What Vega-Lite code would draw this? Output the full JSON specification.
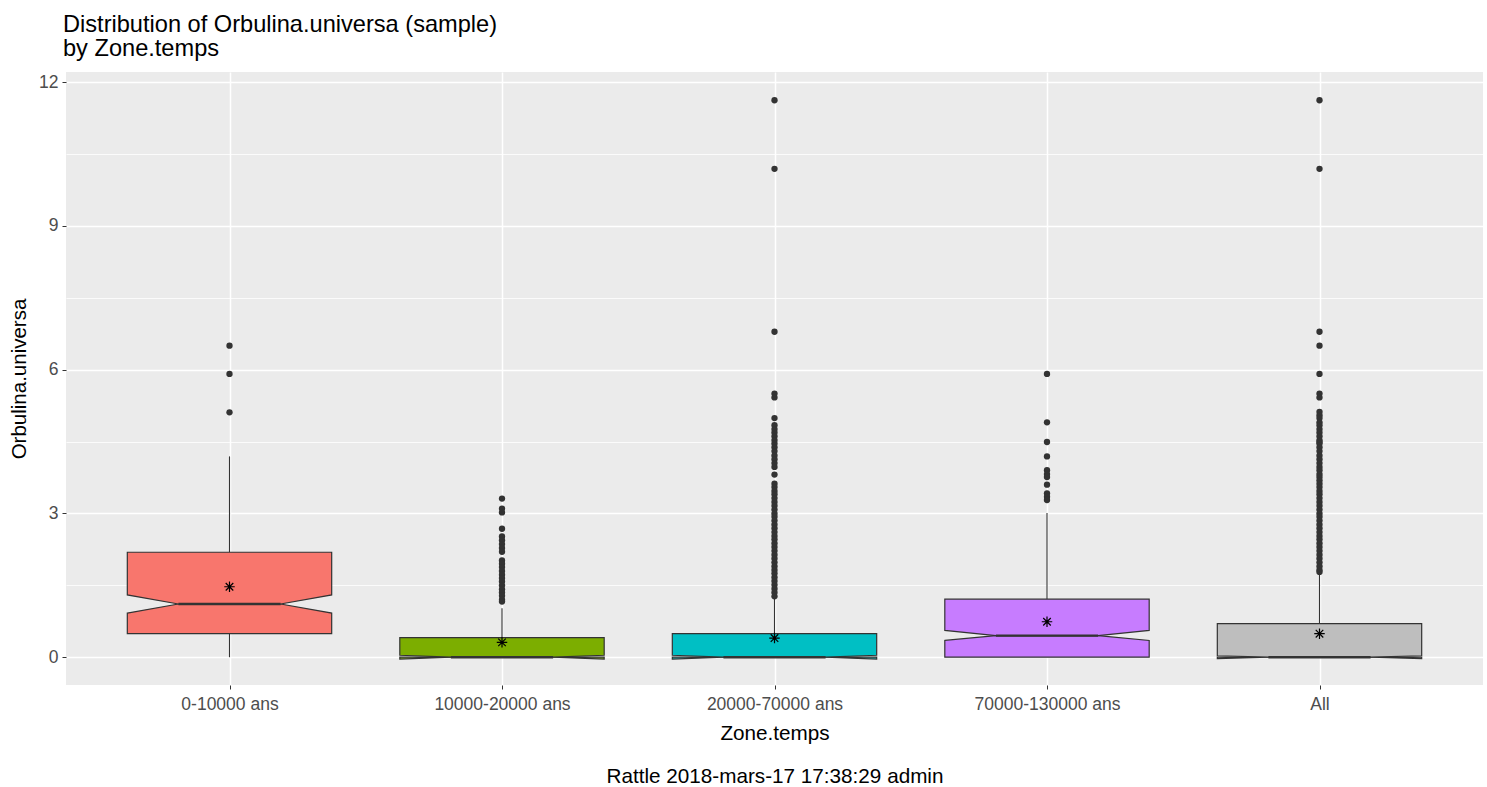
{
  "$schema": "https://vega.github.io/schema/vega-lite/v6.json",
  "width": 1417,
  "height": 613,
  "autosize": {"type": "none"},
  "padding": {"left": 66, "top": 72, "right": 4, "bottom": 102},
  "background": "white",
  "title": {
    "text": ["Distribution of Orbulina.universa (sample)", "by Zone.temps"],
    "anchor": "start",
    "frame": "group",
    "fontSize": 23.6,
    "fontWeight": "normal",
    "font": "Liberation Sans",
    "color": "black",
    "lineHeight": 24,
    "offset": 11,
    "dx": -3
  },
  "config": {
    "font": "Liberation Sans",
    "view": {"fill": "#EBEBEB", "stroke": null}
  },
  "datasets": {
    "stats": [
      {"group": "0-10000 ans", "q1": 0.49, "nlo": 0.92, "med": 1.11, "nhi": 1.30, "q3": 2.19, "wlo": 0.0, "whi": 4.19, "mean": 1.47},
      {"group": "10000-20000 ans", "q1": 0.0, "nlo": -0.04, "med": 0.0, "nhi": 0.04, "q3": 0.41, "wlo": 0.0, "whi": 1.02, "mean": 0.31},
      {"group": "20000-70000 ans", "q1": 0.0, "nlo": -0.04, "med": 0.0, "nhi": 0.04, "q3": 0.49, "wlo": 0.0, "whi": 1.22, "mean": 0.40},
      {"group": "70000-130000 ans", "q1": 0.0, "nlo": 0.35, "med": 0.45, "nhi": 0.56, "q3": 1.21, "wlo": 0.0, "whi": 3.01, "mean": 0.74},
      {"group": "All", "q1": 0.0, "nlo": -0.03, "med": 0.0, "nhi": 0.03, "q3": 0.70, "wlo": 0.0, "whi": 1.75, "mean": 0.49}
    ],
    "outliers": [
      {"group": "0-10000 ans", "value": 6.50},
      {"group": "0-10000 ans", "value": 5.91},
      {"group": "0-10000 ans", "value": 5.11},
      {"group": "10000-20000 ans", "value": 3.31},
      {"group": "10000-20000 ans", "value": 3.10},
      {"group": "10000-20000 ans", "value": 3.02},
      {"group": "10000-20000 ans", "value": 2.68},
      {"group": "10000-20000 ans", "value": 2.52},
      {"group": "10000-20000 ans", "value": 2.44},
      {"group": "10000-20000 ans", "value": 2.36},
      {"group": "10000-20000 ans", "value": 2.28},
      {"group": "10000-20000 ans", "value": 2.20},
      {"group": "10000-20000 ans", "value": 2.02},
      {"group": "10000-20000 ans", "value": 1.95},
      {"group": "10000-20000 ans", "value": 1.88},
      {"group": "10000-20000 ans", "value": 1.80},
      {"group": "10000-20000 ans", "value": 1.72},
      {"group": "10000-20000 ans", "value": 1.65},
      {"group": "10000-20000 ans", "value": 1.58},
      {"group": "10000-20000 ans", "value": 1.50},
      {"group": "10000-20000 ans", "value": 1.42},
      {"group": "10000-20000 ans", "value": 1.35},
      {"group": "10000-20000 ans", "value": 1.28},
      {"group": "10000-20000 ans", "value": 1.20},
      {"group": "10000-20000 ans", "value": 1.16},
      {"group": "20000-70000 ans", "value": 11.62},
      {"group": "20000-70000 ans", "value": 10.19},
      {"group": "20000-70000 ans", "value": 6.79},
      {"group": "20000-70000 ans", "value": 5.50},
      {"group": "20000-70000 ans", "value": 5.42},
      {"group": "20000-70000 ans", "value": 4.99},
      {"group": "20000-70000 ans", "value": 4.84},
      {"group": "20000-70000 ans", "value": 4.76},
      {"group": "20000-70000 ans", "value": 4.69},
      {"group": "20000-70000 ans", "value": 4.61},
      {"group": "20000-70000 ans", "value": 4.53},
      {"group": "20000-70000 ans", "value": 4.46},
      {"group": "20000-70000 ans", "value": 4.38},
      {"group": "20000-70000 ans", "value": 4.30},
      {"group": "20000-70000 ans", "value": 4.21},
      {"group": "20000-70000 ans", "value": 4.13},
      {"group": "20000-70000 ans", "value": 4.05},
      {"group": "20000-70000 ans", "value": 3.97},
      {"group": "20000-70000 ans", "value": 3.81},
      {"group": "20000-70000 ans", "value": 3.62},
      {"group": "20000-70000 ans", "value": 3.55},
      {"group": "20000-70000 ans", "value": 3.47},
      {"group": "20000-70000 ans", "value": 3.40},
      {"group": "20000-70000 ans", "value": 3.32},
      {"group": "20000-70000 ans", "value": 3.24},
      {"group": "20000-70000 ans", "value": 3.16},
      {"group": "20000-70000 ans", "value": 3.08},
      {"group": "20000-70000 ans", "value": 3.00},
      {"group": "20000-70000 ans", "value": 2.93},
      {"group": "20000-70000 ans", "value": 2.85},
      {"group": "20000-70000 ans", "value": 2.77},
      {"group": "20000-70000 ans", "value": 2.69},
      {"group": "20000-70000 ans", "value": 2.61},
      {"group": "20000-70000 ans", "value": 2.53},
      {"group": "20000-70000 ans", "value": 2.46},
      {"group": "20000-70000 ans", "value": 2.38},
      {"group": "20000-70000 ans", "value": 2.30},
      {"group": "20000-70000 ans", "value": 2.22},
      {"group": "20000-70000 ans", "value": 2.14},
      {"group": "20000-70000 ans", "value": 2.06},
      {"group": "20000-70000 ans", "value": 1.98},
      {"group": "20000-70000 ans", "value": 1.90},
      {"group": "20000-70000 ans", "value": 1.82},
      {"group": "20000-70000 ans", "value": 1.75},
      {"group": "20000-70000 ans", "value": 1.67},
      {"group": "20000-70000 ans", "value": 1.59},
      {"group": "20000-70000 ans", "value": 1.51},
      {"group": "20000-70000 ans", "value": 1.43},
      {"group": "20000-70000 ans", "value": 1.35},
      {"group": "20000-70000 ans", "value": 1.27},
      {"group": "70000-130000 ans", "value": 5.91},
      {"group": "70000-130000 ans", "value": 4.90},
      {"group": "70000-130000 ans", "value": 4.49},
      {"group": "70000-130000 ans", "value": 4.19},
      {"group": "70000-130000 ans", "value": 3.90},
      {"group": "70000-130000 ans", "value": 3.82},
      {"group": "70000-130000 ans", "value": 3.76},
      {"group": "70000-130000 ans", "value": 3.60},
      {"group": "70000-130000 ans", "value": 3.42},
      {"group": "70000-130000 ans", "value": 3.35},
      {"group": "70000-130000 ans", "value": 3.28},
      {"group": "All", "value": 11.62},
      {"group": "All", "value": 10.19},
      {"group": "All", "value": 6.79},
      {"group": "All", "value": 6.50},
      {"group": "All", "value": 5.91},
      {"group": "All", "value": 5.50},
      {"group": "All", "value": 5.42},
      {"group": "All", "value": 5.12},
      {"group": "All", "value": 5.05},
      {"group": "All", "value": 4.99},
      {"group": "All", "value": 4.90},
      {"group": "All", "value": 4.84},
      {"group": "All", "value": 4.76},
      {"group": "All", "value": 4.69},
      {"group": "All", "value": 4.61},
      {"group": "All", "value": 4.53},
      {"group": "All", "value": 4.49},
      {"group": "All", "value": 4.46},
      {"group": "All", "value": 4.38},
      {"group": "All", "value": 4.30},
      {"group": "All", "value": 4.21},
      {"group": "All", "value": 4.13},
      {"group": "All", "value": 4.05},
      {"group": "All", "value": 3.97},
      {"group": "All", "value": 3.90},
      {"group": "All", "value": 3.82},
      {"group": "All", "value": 3.76},
      {"group": "All", "value": 3.69},
      {"group": "All", "value": 3.62},
      {"group": "All", "value": 3.55},
      {"group": "All", "value": 3.47},
      {"group": "All", "value": 3.40},
      {"group": "All", "value": 3.32},
      {"group": "All", "value": 3.24},
      {"group": "All", "value": 3.16},
      {"group": "All", "value": 3.08},
      {"group": "All", "value": 3.00},
      {"group": "All", "value": 2.93},
      {"group": "All", "value": 2.85},
      {"group": "All", "value": 2.77},
      {"group": "All", "value": 2.69},
      {"group": "All", "value": 2.61},
      {"group": "All", "value": 2.53},
      {"group": "All", "value": 2.46},
      {"group": "All", "value": 2.38},
      {"group": "All", "value": 2.30},
      {"group": "All", "value": 2.22},
      {"group": "All", "value": 2.14},
      {"group": "All", "value": 2.06},
      {"group": "All", "value": 1.98},
      {"group": "All", "value": 1.90},
      {"group": "All", "value": 1.82},
      {"group": "All", "value": 1.78}
    ]
  },
  "layer": [
    {
      "data": {"name": "stats"},
      "transform": [
        {"calculate": "indexof(['0-10000 ans','10000-20000 ans','20000-70000 ans','70000-130000 ans','All'], datum.group) + 1", "as": "idx"}
      ],
      "mark": {"type": "rule", "color": "#333333", "strokeWidth": 1.1},
      "encoding": {
        "x": {
          "field": "idx", "type": "quantitative",
          "scale": {"domain": [0.4, 5.6], "nice": false, "zero": false},
          "axis": {
            "values": [1, 2, 3, 4, 5],
            "labelExpr": "['0-10000 ans','10000-20000 ans','20000-70000 ans','70000-130000 ans','All'][datum.value - 1]",
            "grid": true, "gridColor": "white", "gridWidth": 1.5,
            "domain": false,
            "ticks": true, "tickColor": "#333333", "tickSize": 4, "tickWidth": 1,
            "labelColor": "#4D4D4D", "labelFontSize": 17.5, "labelPadding": 6,
            "labelOverlap": false, "labelFlush": false,
            "title": ["Zone.temps", "Rattle 2018-mars-17 17:38:29 admin"],
            "titleFontSize": 20.7, "titleFontWeight": "normal", "titleColor": "black",
            "titlePadding": 11, "titleLineHeight": 43
          }
        },
        "y": {
          "field": "q3", "type": "quantitative",
          "scale": {"domain": [-0.58, 12.21], "nice": false, "zero": false},
          "axis": {
            "values": [0, 1.5, 3, 4.5, 6, 7.5, 9, 10.5, 12],
            "labelExpr": "datum.value % 3 === 0 ? datum.label : ''",
            "grid": true, "gridColor": "white",
            "gridWidth": {"condition": {"test": "datum.value % 3 === 0", "value": 1.5}, "value": 0.8},
            "domain": false,
            "tickColor": "#333333", "tickSize": 4, "tickWidth": 1,
            "tickOpacity": {"condition": {"test": "datum.value % 3 === 0", "value": 1}, "value": 0},
            "labelColor": "#4D4D4D", "labelFontSize": 17.5, "labelPadding": 4,
            "title": "Orbulina.universa",
            "titleFontSize": 20.5, "titleFontWeight": "normal", "titleColor": "black",
            "titlePadding": 9
          }
        },
        "y2": {"field": "whi"}
      }
    },
    {
      "data": {"name": "stats"},
      "transform": [
        {"calculate": "indexof(['0-10000 ans','10000-20000 ans','20000-70000 ans','70000-130000 ans','All'], datum.group) + 1", "as": "idx"}
      ],
      "mark": {"type": "rule", "color": "#333333", "strokeWidth": 1.1},
      "encoding": {
        "x": {"field": "idx", "type": "quantitative", "scale": {"domain": [0.4, 5.6], "nice": false, "zero": false}},
        "y": {"field": "wlo", "type": "quantitative", "scale": {"domain": [-0.58, 12.21], "nice": false, "zero": false}},
        "y2": {"field": "q1"}
      }
    },
    {
      "data": {"name": "outliers"},
      "transform": [
        {"calculate": "indexof(['0-10000 ans','10000-20000 ans','20000-70000 ans','70000-130000 ans','All'], datum.group) + 1", "as": "idx"}
      ],
      "mark": {"type": "point", "filled": true, "color": "#333333", "opacity": 1, "size": 40, "strokeWidth": 0},
      "encoding": {
        "x": {"field": "idx", "type": "quantitative", "scale": {"domain": [0.4, 5.6], "nice": false, "zero": false}},
        "y": {"field": "value", "type": "quantitative", "scale": {"domain": [-0.58, 12.21], "nice": false, "zero": false}}
      }
    },
    {
      "data": {"name": "stats"},
      "transform": [
        {"calculate": "indexof(['0-10000 ans','10000-20000 ans','20000-70000 ans','70000-130000 ans','All'], datum.group) + 1", "as": "idx"},
        {"fold": ["q1", "nlo", "nhi", "q3"], "as": ["corner", "cv"]},
        {"calculate": "datum.corner === 'q1' ? -0.375 : datum.corner === 'nlo' ? -0.1875 : datum.corner === 'nhi' ? 0.1875 : 0.375", "as": "dx"},
        {"calculate": "datum.idx + datum.dx", "as": "xv"},
        {"calculate": "abs(datum.dx) > 0.3 ? datum.nlo : datum.med", "as": "ytop"}
      ],
      "mark": {"type": "area", "stroke": "#333333", "strokeWidth": 1.2, "opacity": 1},
      "encoding": {
        "x": {"field": "xv", "type": "quantitative", "scale": {"domain": [0.4, 5.6], "nice": false, "zero": false}},
        "y": {"field": "ytop", "type": "quantitative", "stack": null, "scale": {"domain": [-0.58, 12.21], "nice": false, "zero": false}},
        "y2": {"field": "q1"},
        "fill": {
          "field": "group", "type": "nominal", "legend": null,
          "scale": {
            "domain": ["0-10000 ans", "10000-20000 ans", "20000-70000 ans", "70000-130000 ans", "All"],
            "range": ["#F8766D", "#7CAE00", "#00BFC4", "#C77CFF", "#BEBEBE"]
          }
        }
      }
    },
    {
      "data": {"name": "stats"},
      "transform": [
        {"calculate": "indexof(['0-10000 ans','10000-20000 ans','20000-70000 ans','70000-130000 ans','All'], datum.group) + 1", "as": "idx"},
        {"fold": ["q1", "nlo", "nhi", "q3"], "as": ["corner", "cv"]},
        {"calculate": "datum.corner === 'q1' ? -0.375 : datum.corner === 'nlo' ? -0.1875 : datum.corner === 'nhi' ? 0.1875 : 0.375", "as": "dx"},
        {"calculate": "datum.idx + datum.dx", "as": "xv"},
        {"calculate": "abs(datum.dx) > 0.3 ? datum.nhi : datum.med", "as": "ybot"}
      ],
      "mark": {"type": "area", "stroke": "#333333", "strokeWidth": 1.2, "opacity": 1},
      "encoding": {
        "x": {"field": "xv", "type": "quantitative", "scale": {"domain": [0.4, 5.6], "nice": false, "zero": false}},
        "y": {"field": "q3", "type": "quantitative", "stack": null, "scale": {"domain": [-0.58, 12.21], "nice": false, "zero": false}},
        "y2": {"field": "ybot"},
        "fill": {
          "field": "group", "type": "nominal", "legend": null,
          "scale": {
            "domain": ["0-10000 ans", "10000-20000 ans", "20000-70000 ans", "70000-130000 ans", "All"],
            "range": ["#F8766D", "#7CAE00", "#00BFC4", "#C77CFF", "#BEBEBE"]
          }
        }
      }
    },
    {
      "data": {"name": "stats"},
      "transform": [
        {"calculate": "indexof(['0-10000 ans','10000-20000 ans','20000-70000 ans','70000-130000 ans','All'], datum.group) + 1", "as": "idx"},
        {"calculate": "datum.idx - 0.1875", "as": "ml"},
        {"calculate": "datum.idx + 0.1875", "as": "mr"}
      ],
      "mark": {"type": "rule", "color": "#333333", "strokeWidth": 2.4},
      "encoding": {
        "x": {"field": "ml", "type": "quantitative", "scale": {"domain": [0.4, 5.6], "nice": false, "zero": false}},
        "x2": {"field": "mr"},
        "y": {"field": "med", "type": "quantitative", "scale": {"domain": [-0.58, 12.21], "nice": false, "zero": false}}
      }
    },
    {
      "data": {"name": "stats"},
      "transform": [
        {"calculate": "indexof(['0-10000 ans','10000-20000 ans','20000-70000 ans','70000-130000 ans','All'], datum.group) + 1", "as": "idx"}
      ],
      "mark": {
        "type": "point",
        "shape": "M-1,0L1,0M0,-1L0,1M-0.72,-0.72L0.72,0.72M-0.72,0.72L0.72,-0.72",
        "filled": false, "stroke": "black", "strokeWidth": 1.2, "opacity": 1, "size": 110
      },
      "encoding": {
        "x": {"field": "idx", "type": "quantitative", "scale": {"domain": [0.4, 5.6], "nice": false, "zero": false}},
        "y": {"field": "mean", "type": "quantitative", "scale": {"domain": [-0.58, 12.21], "nice": false, "zero": false}}
      }
    }
  ]
}
